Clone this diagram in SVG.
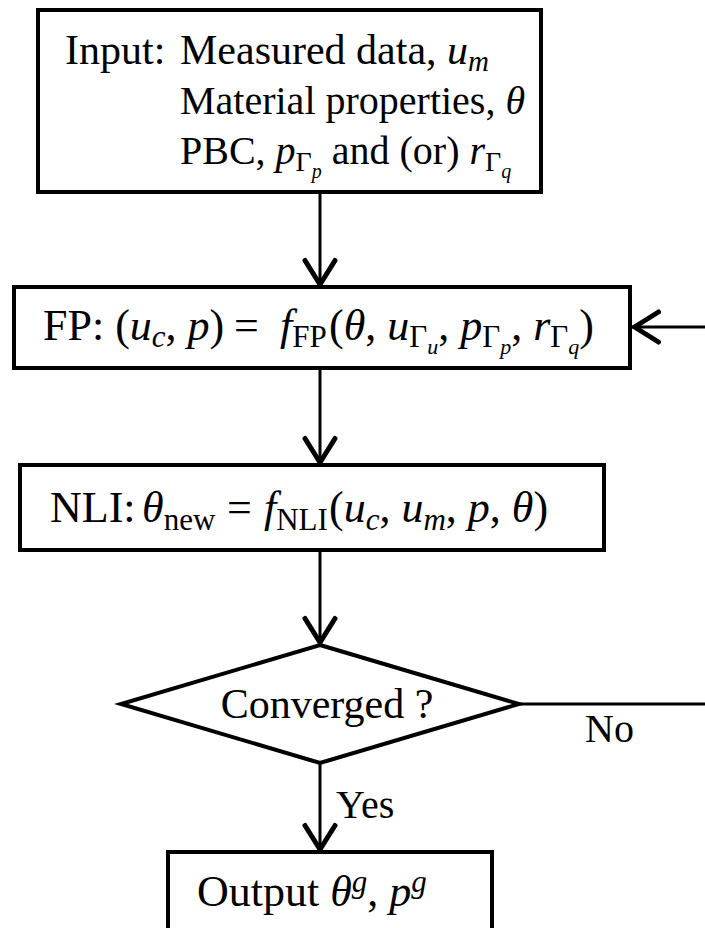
<svg xmlns="http://www.w3.org/2000/svg" width="705" height="928" viewBox="0 0 705 928">
<style>
.box{fill:#fff;stroke:#000;stroke-width:4}
.t{font-family:"Liberation Serif","Times New Roman",serif;font-size:44px;fill:#000}
.i{font-style:italic}
.s{font-size:31px}
.ss{font-size:22px}
.lbl{font-family:"Liberation Serif","Times New Roman",serif;font-size:40px;fill:#000}
.c{fill:none;stroke:#000;stroke-width:3}
</style>
<defs>
<marker id="ah" markerUnits="userSpaceOnUse" markerWidth="40" markerHeight="40" viewBox="-32 -20 40 40" refX="2.5" refY="0" orient="auto">
<path d="M-24,-15 L0,0 L-24,15" fill="none" stroke="#000" stroke-width="5" stroke-linejoin="round" stroke-linecap="round"/>
</marker>
</defs>
<g id="connectors">
<path class="c" d="M320,192 V287" marker-end="url(#ah)"/>
<path class="c" d="M705,327 H632" marker-end="url(#ah)"/>
<path class="c" d="M320,368 V465" marker-end="url(#ah)"/>
<path class="c" d="M320,550 V645" marker-end="url(#ah)"/>
<path class="c" d="M519,704 H705"/>
<path class="c" d="M320,763 V852" marker-end="url(#ah)"/>
<text class="lbl" x="585" y="742">No</text>
<text class="lbl" x="336" y="818">Yes</text>
</g>
<g id="input">
<rect class="box" x="38" y="10" width="503" height="182"/>
<text class="t" x="65" y="64" style="font-size:42px">Input:<tspan x="180">Measured data, </tspan><tspan class="i">u</tspan><tspan class="i" style="font-size:29px" y="71">m</tspan></text>
<text class="t" x="180" y="114" style="font-size:40px">Material properties, <tspan class="i">θ</tspan></text>
<text class="t" x="180" y="164" style="font-size:40px">PBC, <tspan class="i">p</tspan><tspan style="font-size:28px" y="171">Γ</tspan><tspan class="i" style="font-size:20px" y="178">p</tspan><tspan y="164"> and (or) </tspan><tspan class="i">r</tspan><tspan style="font-size:28px" y="171">Γ</tspan><tspan class="i" style="font-size:20px" y="178">q</tspan></text>
</g>
<g id="fp">
<rect class="box" x="14" y="287" width="616" height="81"/>
<text class="t" x="43" y="340">FP: (<tspan class="i">u</tspan><tspan class="i s" y="347">c</tspan><tspan y="340">, </tspan><tspan class="i">p</tspan>)<tspan x="234">=</tspan><tspan class="i" x="280">f</tspan><tspan class="s" y="347">FP</tspan><tspan y="340" x="329">(</tspan><tspan class="i">θ</tspan>, <tspan class="i">u</tspan><tspan class="s" y="347">Γ</tspan><tspan class="i ss" y="354">u</tspan><tspan y="340">, </tspan><tspan class="i">p</tspan><tspan class="s" y="347">Γ</tspan><tspan class="i ss" y="354">p</tspan><tspan y="340">, </tspan><tspan class="i">r</tspan><tspan class="s" y="347">Γ</tspan><tspan class="i ss" y="354">q</tspan><tspan y="340">)</tspan></text>
</g>
<g id="nli">
<rect class="box" x="20" y="465" width="584" height="85"/>
<text class="t" x="50" y="522">NLI:<tspan class="i" x="142">θ</tspan><tspan class="s" y="530">new</tspan><tspan y="522" x="227">=</tspan><tspan class="i" x="264">f</tspan><tspan class="s" y="530">NLI</tspan><tspan y="522" x="329">(</tspan><tspan class="i">u</tspan><tspan class="i s" y="530">c</tspan><tspan y="522">, </tspan><tspan class="i">u</tspan><tspan class="i s" y="530">m</tspan><tspan y="522">, </tspan><tspan class="i">p</tspan>, <tspan class="i">θ</tspan>)</text>
</g>
<g id="converged">
<polygon class="box" points="320,645 519,704 320,763 121,704"/>
<text class="t" x="327" y="718" text-anchor="middle" style="font-size:42px">Converged ?</text>
</g>
<g id="output">
<rect class="box" x="168" y="852" width="324" height="100"/>
<text class="t" x="197" y="906">Output <tspan class="i">θ</tspan><tspan class="i s" y="892">g</tspan><tspan y="906">, </tspan><tspan class="i">p</tspan><tspan class="i s" y="892">g</tspan></text>
</g>
</svg>
